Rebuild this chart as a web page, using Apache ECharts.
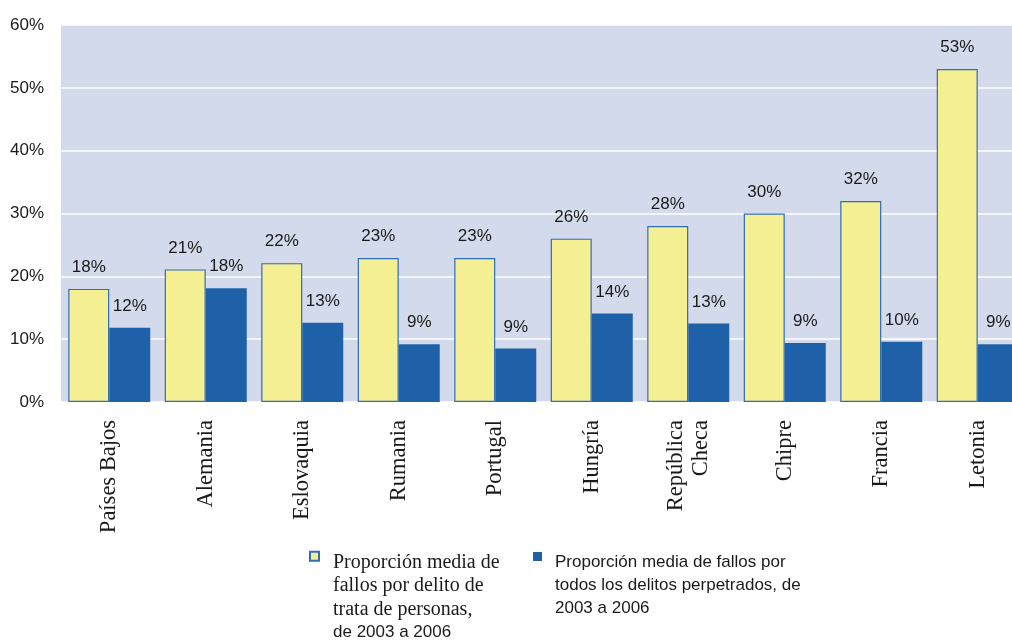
<!DOCTYPE html>
<html>
<head>
<meta charset="utf-8">
<script src="https://cdn.jsdelivr.net/npm/echarts@6/dist/echarts.min.js"></script>
<style>
  html, body { margin: 0; padding: 0; background: #fff; }
  #chart { width: 1012px; height: 642px; }
</style>
</head>
<body>
<div id="chart"></div>
<script>
// paises
const categories = [
  "Países Bajos", "Alemania", "Eslovaquia", "Rumania", "Portugal",
  "Hungría", "República\nCheca", "Chipre", "Francia", "Letonia"
];
// proporcion media de fallos por delito de trata de personas
const trataValues = [18, 21.1, 22.1, 22.9, 22.9, 26, 28, 30, 32, 53];
// proporcion media de fallos por todos los delitos
const todosValues = [11.8, 18.1, 12.6, 9.2, 8.5, 14.1, 12.5, 9.4, 9.6, 9.2];
const yTicks = [0, 10, 20, 30, 40, 50, 60];

const serie1 = "Proporción media de fallos por delito de trata de personas, de 2003 a 2006";
const serie2 = "Proporción media de fallos por todos los delitos perpetrados, de 2003 a 2006";

const sans = "Liberation Sans, Arial, sans-serif";
const serif = "Liberation Serif, Times New Roman, serif";

const chart = echarts.init(document.getElementById("chart"));

const labelStyle = {
  show: true,
  position: "top",
  distance: 13,
  fontFamily: sans,
  fontSize: 17,
  color: "#1a1a1a",
  formatter: (p) => Math.round(p.value) + "%",
};

const option = {
  animation: false,
  backgroundColor: "#ffffff",
  grid: {
    left: 61,
    width: 965,
    top: 25,
    height: 377,
    outerBoundsMode: "none",
    containLabel: false,
    show: true,
    backgroundColor: "#d3daeb",
    borderWidth: 0,
  },
  legend: [
    {
      data: [serie1],
      left: 309,
      top: 468,
      padding: 0,
      icon: "rect",
      itemWidth: 9,
      itemHeight: 9,
      selectedMode: false,
      formatter: () =>
        "{gap| }\n{s|Proporción media de}\n{s|fallos por delito de}\n{s|trata de personas,}\n{a|de 2003 a 2006}",
      textStyle: {
        rich: {
          gap: { fontSize: 10, height: 82.5, lineHeight: 82.5 },
          s: { fontFamily: serif, fontSize: 20, lineHeight: 23.5, color: "#1a1a1a", padding: [0, 0, 0, 9] },
          a: { fontFamily: sans, fontSize: 17, lineHeight: 23.5, color: "#1a1a1a", padding: [0, 0, 0, 9] },
        },
      },
    },
    {
      data: [serie2],
      left: 533,
      top: 493,
      padding: 0,
      icon: "rect",
      itemWidth: 9,
      itemHeight: 9,
      selectedMode: false,
      formatter: () =>
        "{gap| }\n{t|Proporción media de fallos por}\n{t|todos los delitos perpetrados, de}\n{t|2003 a 2006}",
      textStyle: {
        rich: {
          gap: { fontSize: 10, height: 58, lineHeight: 58 },
          t: { fontFamily: sans, fontSize: 17, lineHeight: 23, color: "#1a1a1a", padding: [0, 0, 0, 8] },
        },
      },
    },
  ],
  xAxis: {
    type: "category",
    data: categories,
    axisLine: { show: false },
    axisTick: { show: false },
    axisLabel: {
      rotate: 90,
      margin: 18,
      fontFamily: serif,
      fontSize: 22.5,
      lineHeight: 25,
      color: "#1a1a1a",
      interval: 0,
    },
  },
  yAxis: {
    type: "value",
    min: yTicks[0],
    max: yTicks[yTicks.length - 1],
    interval: 10,
    axisLine: { show: false },
    axisTick: { show: false },
    axisLabel: {
      formatter: "{value}%",
      margin: 17,
      fontFamily: sans,
      fontSize: 17,
      color: "#1a1a1a",
    },
    splitLine: { lineStyle: { color: "#ffffff", width: 1.5 } },
  },
  series: [
    {
      name: serie1,
      type: "bar",
      data: trataValues,
      barWidth: 41,
      barGap: "0%",
      itemStyle: { color: "#f5ef93", borderColor: "#2f6eb5", borderWidth: 1.2 },
      label: labelStyle,
    },
    {
      name: serie2,
      type: "bar",
      data: todosValues,
      barWidth: 41,
      itemStyle: { color: "#1f61a8" },
      label: labelStyle,
    },
  ],
};

chart.setOption(option);
</script>
</body>
</html>
